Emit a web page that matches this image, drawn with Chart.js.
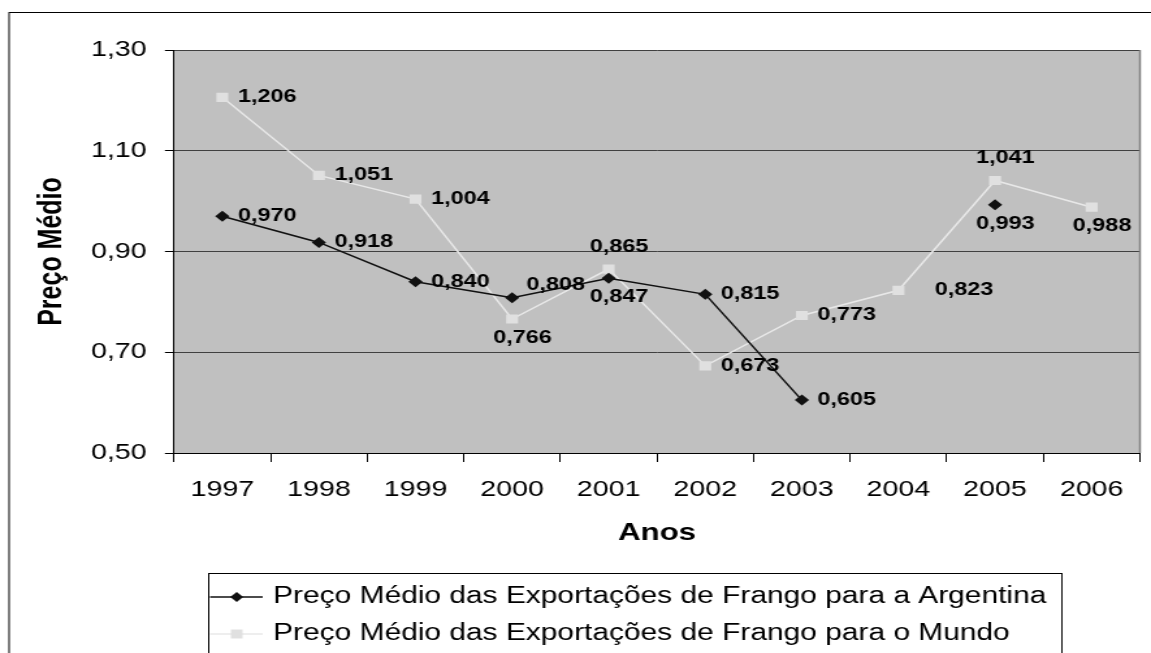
<!DOCTYPE html>
<html lang="pt">
<head>
<meta charset="utf-8">
<title>Preço Médio das Exportações de Frango</title>
<script src="https://cdn.jsdelivr.net/npm/chart.js@4.4.1/dist/chart.umd.min.js"></script>
<style>
  html, body { margin: 0; padding: 0; background: #fff; overflow: hidden; }
</style>
</head>
<body>
<!-- o gráfico original está esticado na horizontal (~1,3x): desenha a 885 px e mostra a 1151 px -->
<canvas id="grafico" width="885" height="653" style="width:1151px;height:653px;display:block"></canvas>
<script>
// Dados
const anos = ['1997', '1998', '1999', '2000', '2001', '2002', '2003', '2004', '2005', '2006'];
const precoArgentina = [0.970, 0.918, 0.840, 0.808, 0.847, 0.815, 0.605, null, 0.993, null];
const precoMundo = [1.206, 1.051, 1.004, 0.766, 0.865, 0.673, 0.773, 0.823, 1.041, 0.988];
const ticksY = [0.50, 0.70, 0.90, 1.10, 1.30];
const nomesSeries = [
  'Preço Médio das Exportações de Frango para a Argentina',
  'Preço Médio das Exportações de Frango para o Mundo'
];

// posição dos rótulos de dados
const posArgentina = ['right', 'right', 'right', 'upRight', 'below', 'right', 'right', null, 'below', null];
const posMundo = ['right', 'right', 'right', 'below', 'above', 'right', 'right', 'farRight', 'above', 'below'];

const FONTE = '"Liberation Sans", Arial, Helvetica, sans-serif';
Chart.defaults.font.family = FONTE;
Chart.defaults.color = '#000';

function virgula(v, casas) {
  return Number(v).toFixed(casas).replace('.', ',');
}

// fundo cinza da área de plotagem + moldura externa
const fundoPlugin = {
  id: 'fundo',
  beforeDraw(chart) {
    const { ctx, chartArea: a } = chart;
    ctx.save();
    ctx.fillStyle = '#fff';
    ctx.fillRect(0, 0, chart.width, chart.height);
    ctx.fillStyle = '#c0c0c0';
    ctx.fillRect(a.left, a.top, a.right - a.left, a.bottom - a.top);
    ctx.strokeStyle = '#000';
    ctx.lineWidth = 1;
    ctx.strokeRect(7, 12.5, 2000, 2000);
    ctx.restore();
  },
  beforeDatasetsDraw(chart) {
    const { ctx, chartArea: a } = chart;
    ctx.save();
    ctx.strokeStyle = '#808080';
    ctx.lineWidth = 1.5;
    ctx.beginPath();
    ctx.moveTo(a.right, a.top);
    ctx.lineTo(a.right, a.bottom);
    ctx.stroke();
    ctx.restore();
  }
};

// rótulos de dados
const rotulosPlugin = {
  id: 'rotulos',
  afterDatasetsDraw(chart) {
    const ctx = chart.ctx;
    const posicoes = [posArgentina, posMundo];
    ctx.save();
    ctx.font = 'bold 18px ' + FONTE;
    ctx.fillStyle = '#000';
    chart.data.datasets.forEach((ds, i) => {
      const meta = chart.getDatasetMeta(i);
      meta.data.forEach((pt, j) => {
        const v = ds.data[j];
        const pos = posicoes[i][j];
        if (v === null || !pos) return;
        const txt = virgula(v, 3);
        ctx.textBaseline = 'middle';
        if (pos === 'right') {
          ctx.textAlign = 'left';
          ctx.fillText(txt, pt.x + 12, pt.y);
        } else if (pos === 'upRight') {
          ctx.textAlign = 'left';
          ctx.fillText(txt, pt.x + 11, pt.y - 13);
        } else if (pos === 'farRight') {
          ctx.textAlign = 'left';
          ctx.fillText(txt, pt.x + 28, pt.y);
        } else if (pos === 'below') {
          ctx.textAlign = 'center';
          ctx.fillText(txt, pt.x + 8, pt.y + 19);
        } else {
          ctx.textAlign = 'center';
          ctx.fillText(txt, pt.x + 8, pt.y - 22);
        }
      });
    });
    ctx.restore();
  }
};

// legenda com caixa, desenhada à mão
const legendaPlugin = {
  id: 'legendaCaixa',
  afterDraw(chart) {
    const ctx = chart.ctx;
    ctx.save();
    ctx.strokeStyle = '#000';
    ctx.lineWidth = 1;
    ctx.strokeRect(160.5, 573.5, 656, 200);
    const linhas = [597, 634];
    chart.data.datasets.forEach((ds, i) => {
      const y = linhas[i];
      ctx.strokeStyle = ds.borderColor;
      ctx.lineWidth = ds.borderWidth;
      ctx.beginPath();
      ctx.moveTo(161.5, y);
      ctx.lineTo(202, y);
      ctx.stroke();
      ctx.fillStyle = ds.pointBackgroundColor;
      ctx.beginPath();
      if (ds.pointStyle === 'rectRot') {
        ctx.moveTo(182 - 5, y);
        ctx.lineTo(182, y - 5);
        ctx.lineTo(182 + 5, y);
        ctx.lineTo(182, y + 5);
        ctx.closePath();
      } else {
        ctx.rect(182 - 4.5, y - 4.5, 9, 9);
      }
      ctx.fill();
      ctx.fillStyle = '#000';
      ctx.font = '23px ' + FONTE;
      ctx.textAlign = 'left';
      ctx.textBaseline = 'middle';
      ctx.fillText(ds.label, 210, y);
    });
    ctx.restore();
  }
};

const canvas = document.getElementById('grafico');
const grafico = new Chart(canvas.getContext('2d'), {
  type: 'line',
  data: {
    labels: anos,
    datasets: [
      {
        label: nomesSeries[0],
        data: precoArgentina,
        borderColor: '#111',
        borderWidth: 1.5,
        pointStyle: 'rectRot',
        pointRadius: 5.5,
        pointBackgroundColor: '#111',
        pointBorderColor: '#111',
        pointBorderWidth: 0,
        spanGaps: false,
        tension: 0
      },
      {
        label: nomesSeries[1],
        data: precoMundo,
        borderColor: '#e8e8e8',
        borderWidth: 1.5,
        pointStyle: 'rect',
        pointRadius: 6.5,
        pointBackgroundColor: '#e0e0e0',
        pointBorderColor: '#e0e0e0',
        pointBorderWidth: 0,
        tension: 0
      }
    ]
  },
  options: {
    responsive: false,
    animation: false,
    devicePixelRatio: 1,
    layout: { padding: { top: 50, right: 8.5, bottom: 85, left: 0 } },
    plugins: {
      legend: { display: false },
      tooltip: { enabled: false }
    },
    scales: {
      x: {
        offset: true,
        afterFit: s => { s.height = 115; },
        grid: {
          offset: true,
          drawOnChartArea: false,
          drawTicks: true,
          tickLength: 9,
          tickColor: '#000',
          color: '#000'
        },
        border: { color: '#000', width: 1 },
        ticks: { font: { size: 22 }, color: '#000', padding: 15, maxRotation: 0 },
        title: {
          display: true,
          text: 'Anos',
          font: { size: 24, weight: 'bold' },
          color: '#000',
          padding: { top: 0, bottom: 20.6 }
        }
      },
      y: {
        min: 0.5,
        max: 1.3,
        afterFit: s => { s.width = 133.8; },
        afterBuildTicks: s => { s.ticks = ticksY.map(v => ({ value: v })); },
        grid: {
          color: '#404040',
          lineWidth: 1,
          tickLength: 7,
          tickColor: '#000'
        },
        border: { color: '#000', width: 1 },
        ticks: {
          font: { size: 22 },
          color: '#000',
          padding: 14,
          callback: v => virgula(v, 2)
        },
        title: {
          display: true,
          text: 'Preço Médio',
          font: { size: 25, weight: 'bold' },
          color: '#000',
          padding: { top: 25, bottom: 0 }
        }
      }
    }
  },
  plugins: [fundoPlugin, rotulosPlugin, legendaPlugin]
});
// garante o esticamento horizontal do quadro
canvas.style.width = '1151px';
canvas.style.height = '653px';
</script>
</body>
</html>
